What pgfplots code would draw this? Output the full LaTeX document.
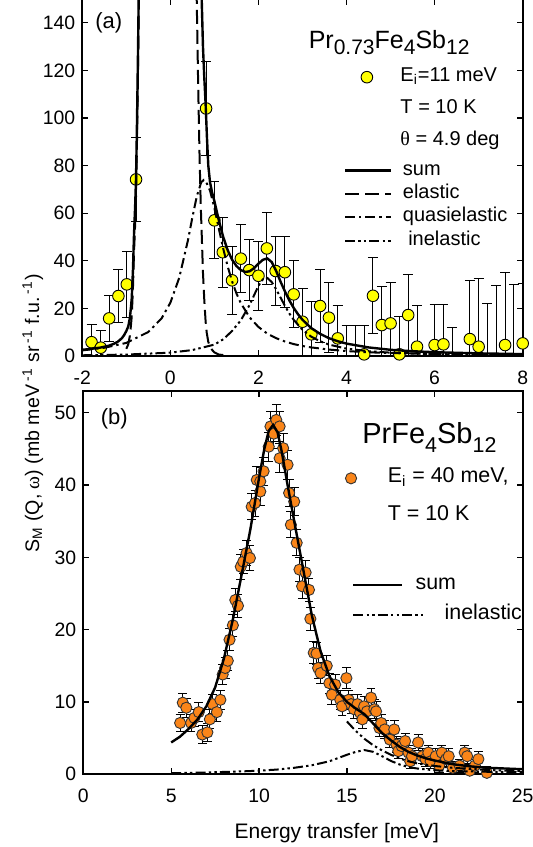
\documentclass[border=0pt]{standalone}
\usepackage{fontspec}
\setmainfont{Liberation Sans}
\newfontfamily\grk{Liberation Serif}
\usepackage{graphicx}
\usepackage{pgfplots}
\usepackage{pgfplotstable}
\pgfplotsset{compat=1.18}
\definecolor{ptyel}{RGB}{255,255,0}
\definecolor{ptorg}{RGB}{250,133,25}
\newcommand\subA[1]{\raisebox{-3.3pt}{\fontsize{10.5}{12}\selectfont #1}}
\newcommand\subB[1]{\raisebox{-4.5pt}{\fontsize{10.7}{12}\selectfont #1}}

\pgfplotstableread{
x y e
-1.79 5.8 7.6
-1.58 3.5 7.4
-1.39 15.8 9.7
-1.18 25.2 11.2
-0.99 30.1 13.9
-0.78 74.2 17.7
0.81 104.0 19.8
1.00 57.0 16.2
1.19 43.6 14.7
1.40 31.8 14.4
1.60 40.9 14.2
1.79 36.1 12.9
2.00 33.7 14.5
2.19 45.2 15.3
2.39 35.7 14.4
2.60 35.2 14.9
2.80 25.9 14.1
3.00 14.4 14.0
3.20 9.1 13.7
3.40 21.0 15.4
3.60 16.1 14.7
3.80 7.4 14.0
4.40 0.7 12.3
4.60 25.3 16.0
4.80 13.0 16.1
5.00 13.7 17.1
5.20 0.7 16.1
5.40 17.2 17.1
5.60 3.9 17.2
6.00 4.6 17.2
6.20 4.9 16.9
6.80 7.1 24.8
7.00 3.9 28.7
7.60 4.6 30.4
8.00 5.3 25.0
}\topdata

\pgfplotstableread{
x y e
4.00 -8 21
4.20 -8 21
6.40 -10 22
7.20 -10 32
7.40 -10 39.5
7.80 -10 40
}\tophidden

\pgfplotstableread{
x y
-2.0 2.6
-1.8 3.0
-1.6 3.5
-1.4 4.3
-1.3 5.0
-1.2 5.9
-1.1 7.5
-1.05 8.8
-1.0 10.5
-0.955 12.5
-0.92 16
-0.9 19.5
-0.878 24
-0.85 36
-0.826 51
-0.80 63
-0.781 74
-0.765 90
-0.751 107
-0.735 128
-0.72 150
-0.70 185
-0.6 400
0.55 400
0.66 190
0.69 168
0.711 150
0.74 130
0.77 117
0.80 106
0.83 92
0.861 80
0.90 73
0.95 68.5
1.0 65
1.1 57
1.2 50
1.3 44.5
1.4 40.5
1.5 37.8
1.6 36.1
1.7 35.3
1.8 35.6
1.9 36.9
2.0 38.8
2.1 40.4
2.2 41.0
2.3 39.5
2.4 35.8
2.5 31.3
2.6 27.2
2.7 23.4
2.8 20.2
2.9 17.5
3.0 15.2
3.2 11.7
3.4 9.3
3.6 7.5
3.8 6.2
4.0 5.2
4.5 3.6
5.0 2.6
5.5 2.0
6.0 1.6
7.0 1.1
8.0 0.8
}\topsum

\pgfplotstableread{
x y
-1.0 3
-0.955 5
-0.92 8.5
-0.9 12
-0.878 16.5
-0.85 28.5
-0.826 43.5
-0.80 55.5
-0.781 66.5
-0.765 82
-0.751 99
-0.735 120
-0.72 142
-0.70 177
-0.6 400
0.5 400
0.598 150
0.63 115
0.66 86
0.69 63
0.711 51.5
0.74 35
0.77 23.5
0.80 14.5
0.825 9.8
0.86 6
0.90 3.9
0.95 2.5
1.0 1.5
1.1 0.6
1.3 0.2
}\topel

\pgfplotstableread{
x y
-2.0 2.35
-1.5 3.46
-1.0 5.5
-0.5 10.1
-0.2 15.8
0.0 22.4
0.2 32.8
0.4 48.7
0.5 58.3
0.6 67.1
0.7 73.0
0.76 74.0
0.8 73.6
0.9 69.5
1.0 62.2
1.1 53.5
1.2 45.1
1.3 37.7
1.4 31.4
1.5 26.3
1.6 22.2
1.8 16.2
2.0 12.2
2.2 9.4
2.4 7.5
2.6 6.1
2.8 5.0
3.0 4.2
3.2 3.6
3.6 2.7
4.0 2.07
4.5 1.56
5.0 1.23
6.0 0.81
7.0 0.57
8.0 0.42
}\topqe

\pgfplotstableread{
x y
-2.0 0.3
-1.0 0.6
0.0 1.4
0.5 2.5
1.0 4.8
1.2 7.0
1.4 10.5
1.6 15.0
1.8 21.5
1.9 25.5
2.0 29.5
2.1 32.2
2.15 33.0
2.2 32.8
2.3 31.1
2.4 28.1
2.5 24.6
2.6 21.1
2.7 17.9
2.8 15.2
3.0 11.0
3.2 8.1
3.4 6.2
3.6 4.8
4.0 3.1
4.5 2.0
5.0 1.4
6.0 0.78
7.0 0.50
8.0 0.34
}\topin

\pgfplotstableread{
x y e
5.51 7.1 1.2
5.66 9.9 1.3
5.86 9.2 1.3
6.13 7.1 1.2
6.32 7.8 1.2
6.57 8.6 1.3
6.77 5.5 1.2
7.06 5.8 1.2
7.20 7.6 1.3
7.35 9.7 1.3
7.60 8.6 1.3
7.80 10.3 1.3
7.93 13.8 1.4
8.07 14.7 1.4
8.22 15.7 1.4
8.32 18.6 1.5
8.51 20.6 1.5
8.65 24.1 1.6
8.80 23.3 1.6
8.96 28.7 1.7
9.10 29.4 1.7
9.29 30.6 1.7
9.48 29.9 1.7
9.58 37.0 1.8
9.77 37.5 1.8
9.87 40.7 1.9
10.07 39.1 1.9
10.07 40.5 1.9
10.26 41.9 1.9
10.55 45.3 2.0
10.65 48.1 2.1
10.84 47.1 2.1
10.98 49.0 2.2
11.17 48.1 2.1
11.17 43.7 2.0
11.37 45.1 2.0
11.62 42.8 2.0
11.71 38.9 1.9
11.81 34.5 1.8
12.00 37.7 1.9
12.14 32.0 1.8
12.30 28.3 1.7
12.45 26.0 1.7
12.65 27.9 1.7
12.84 25.5 1.6
12.92 21.5 1.6
13.11 16.8 1.5
13.27 16.7 1.5
13.36 14.7 1.4
13.50 14.0 1.4
13.85 15.0 1.4
14.00 12.6 1.4
14.14 11.0 1.3
14.33 12.4 1.4
14.62 10.3 1.3
14.72 9.4 1.3
14.97 13.3 1.4
15.10 10.3 1.3
15.24 9.7 1.3
15.40 9.0 1.3
15.60 9.7 1.3
15.75 8.5 1.3
15.88 7.6 1.2
15.98 9.4 1.3
16.14 8.7 1.3
16.37 10.6 1.3
16.56 9.0 1.3
16.66 8.7 1.3
16.85 6.4 1.2
16.95 7.1 1.2
17.15 6.2 1.2
17.44 4.8 1.1
17.69 6.2 1.2
17.82 4.1 1.1
17.92 3.2 1.0
18.11 3.9 1.0
18.31 4.6 1.1
18.50 3.0 1.0
18.60 1.8 1.0
18.70 2.5 1.0
19.05 4.4 1.1
19.28 2.5 1.0
19.47 2.1 1.0
19.63 3.0 1.0
19.76 1.8 1.0
20.05 2.5 1.0
20.25 1.2 0.9
20.40 3.0 1.0
20.64 2.1 1.0
20.79 2.5 1.0
21.02 0.9 0.9
21.41 1.2 0.9
21.70 3.0 1.0
21.84 2.5 1.0
21.99 0.5 0.9
22.28 1.2 0.9
22.48 2.1 1.0
22.96 0.2 0.9
}\botdata

\pgfplotstableread{
x y
5.0 4.4
5.5 5.2
6.0 6.3
6.5 7.6
7.0 9.4
7.5 12.0
8.0 16.0
8.5 21.3
9.0 27.5
9.5 33.8
10.0 41.0
10.3 45.0
10.55 47.5
10.8 48.3
11.05 47.3
11.3 44.5
11.6 40.3
12.0 35.0
12.5 28.5
13.0 22.0
13.5 17.0
14.0 13.6
14.5 11.4
15.0 10.0
15.5 9.1
16.0 8.3
16.5 7.0
17.0 5.7
17.5 4.7
18.0 3.8
18.5 3.1
19.0 2.6
19.5 2.2
20.0 1.9
21.0 1.4
22.0 1.1
23.0 0.9
24.0 0.8
25.0 0.7
}\botsum

\pgfplotstableread{
x y
5 0.15
7 0.25
9 0.4
10 0.5
11 0.65
12 0.9
13 1.25
14 1.8
14.5 2.25
15 2.7
15.5 3.1
16 3.35
16.5 3.1
17 2.5
17.5 1.85
18 1.35
18.5 1.0
19 0.8
20 0.55
21 0.45
22 0.4
23 0.35
25 0.3
}\botin

\pgfplotstableread{
x y
15.0 7.3
15.5 6.0
16.0 4.9
16.5 4.0
17.0 3.3
17.5 2.7
18.0 2.2
18.5 1.8
19.0 1.5
20.0 1.15
21.0 0.9
22.0 0.75
23.0 0.6
24.0 0.5
25.0 0.45
}\botmain

\pgfplotsset{
 base/.style={scale only axis, anchor=south west, clip=true, legend cell align=left},
 frame/.style={base, tick align=inside, major tick length=3pt,
   axis line style={line width=0.9pt}, every tick/.style={line width=0.6pt, black},
   ticklabel style={font=\fontsize{9.7}{11}\selectfont},
   /pgf/number format/assume math mode=true,
   xticklabel style={yshift=-4pt}},
 over/.style={base, hide axis},
 img/.style={legend image code/.code={\path[draw=none] (0pt,0pt) -- (#1,0pt); \draw[##1] (0pt,0pt) -- (#1,0pt);}},
 mimg/.style={legend image code/.code={\path[draw=none] (0pt,0pt) -- (#1,0pt); \draw[##1, only marks] plot coordinates {(#1/2,0pt)};}},
 longimg/.style={legend image code/.code={\draw[##1, overlay] (0pt,0pt) -- (36pt,0pt); \path[draw=none] (0pt,0pt) -- (24.5pt,0pt);}},
 lg/.style n args={5}{legend style={draw=none, fill=none, inner sep=0pt, outer sep=0pt,
   at={(axis description cs:#1,#2)}, anchor=north west, row sep=#3, column sep=#4,
   nodes={inner sep=0pt, text height=7pt, text depth=2.5pt},
   font=\fontsize{#5}{12}\selectfont}},
 eldash/.style={dash pattern=on 7pt off 3pt},
 qedash/.style={dash pattern=on 5pt off 2pt on 1.2pt off 2pt},
 indash/.style={dash pattern=on 5pt off 1.6pt on 1.2pt off 1.6pt on 1.2pt off 1.6pt},
 ebar/.style={error bars/.cd, y dir=both, y explicit, error bar style={line width=0.5pt, black},
   error mark options={rotate=90, mark size=#1, line width=0.5pt, black}},
}

\begin{document}
\begin{tikzpicture}
\useasboundingbox (0,0) rectangle (266.5pt,423.5pt);

% ---------- panel (a) ----------
\begin{axis}[frame, at={(41.15pt,245.5pt)}, width=220.2pt, height=178.5pt,
  xmin=-2, xmax=8, ymin=0, ymax=150, xtick={-2,0,2,4,6,8}, ytick={0,20,...,140},
  mimg=23pt, lg={0.594}{0.8076}{6.5pt}{5.3pt}{10}]
\addplot[only marks, mark=*, mark size=2.9pt, mark options={fill=ptyel, draw=black, line width=0.45pt},
  ebar=2.5pt] table[x=x, y=y, y error=e] \topdata;
\addlegendentry{E\textsubscript{i}=11 meV}
\addplot[forget plot, only marks, mark=none, ebar=2.5pt] table[x=x, y=y, y error=e] \tophidden;
\addlegendimage{empty legend}\addlegendentry{T = 10 K}
\addlegendimage{empty legend}\addlegendentry{{\grk θ} = 4.9 deg}
\end{axis}

\begin{axis}[over, at={(41.15pt,245.5pt)}, width=220.2pt, height=178.5pt,
  xmin=-2, xmax=8, ymin=0, ymax=150,
  img=23pt, lg={0.594}{0.546}{2.17pt}{5.3pt}{10}]
\addplot[black, line width=1.2pt] table[x=x,y=y] \topsum;
\addlegendentry{sum}
\addplot[black, line width=1pt, eldash] table[x=x,y=y] \topel;
\addlegendentry{elastic}
\addplot[black, line width=1pt, qedash] table[x=x,y=y] \topqe;
\addlegendentry{quasielastic}
\addplot[black, line width=1pt, indash] table[x=x,y=y] \topin;
\addlegendentry{\hspace{2.7pt}inelastic}
\end{axis}

% ---------- panel (b) ----------
\begin{axis}[frame, at={(41.65pt,36.35pt)}, width=219.7pt, height=191.65pt,
  xmin=0, xmax=25, ymin=0, ymax=53, xtick={0,5,...,25}, ytick={0,10,...,50},
  mimg=23pt, lg={0.557}{0.797}{9.2pt}{6.9pt}{10.7}]
\addplot[only marks, mark=*, mark size=2.8pt, mark options={fill=ptorg, draw=black!80, line width=0.45pt},
  ebar=2.2pt] table[x=x, y=y, y error=e] \botdata;
\addlegendentry{E\textsubscript{i} = 40 meV,}
\addlegendimage{empty legend}\addlegendentry{T = 10 K}
\end{axis}

\begin{axis}[over, at={(41.65pt,36.35pt)}, width=219.7pt, height=191.65pt,
  xmin=0, xmax=25, ymin=0, ymax=53,
  img=24.5pt, lg={0.612}{0.519}{5.8pt}{6pt}{10.7}]
\addplot[black, line width=1.2pt] table[x=x,y=y] \botsum;
\addlegendentry{sum}
\addplot[black, line width=1pt, indash, longimg] table[x=x,y=y] \botin;
\addlegendentry{\hspace{14.5pt}inelastic}
\addplot[forget plot, black, line width=1pt, indash] table[x=x,y=y] \botmain;
\end{axis}

% ---------- texts ----------
\node[anchor=base west, inner sep=0pt, font=\fontsize{11}{12}\selectfont] at (47.5pt,409.1pt) {(a)};
\node[anchor=base west, inner sep=0pt, font=\fontsize{11}{12}\selectfont] at (50.2pt,211.1pt) {(b)};
\node[anchor=base west, inner sep=0pt, font=\fontsize{12.5}{14}\selectfont] at (154.2pt,399.3pt)
  {Pr\subA{0.73}Fe\subA{4}Sb\subA{12}};
\node[anchor=base west, inner sep=0pt, font=\fontsize{14.5}{16}\selectfont] at (181pt,201.5pt)
  {PrFe\subB{4}Sb\subB{12}};
\node[anchor=base, inner sep=0pt, font=\fontsize{10.5}{12}\selectfont] at (168.4pt,4.5pt)
  {Energy transfer [meV]};
\node[rotate=90, anchor=base, inner sep=0pt, font=\fontsize{9.8}{12}\selectfont] at (19.6pt,216.75pt)
  {S\textsubscript{M} (Q, {\grk ω}) (mb meV\,\textsuperscript{-1} sr\,\textsuperscript{-1} f.u.\,\textsuperscript{-1})};
\end{tikzpicture}
\end{document}
